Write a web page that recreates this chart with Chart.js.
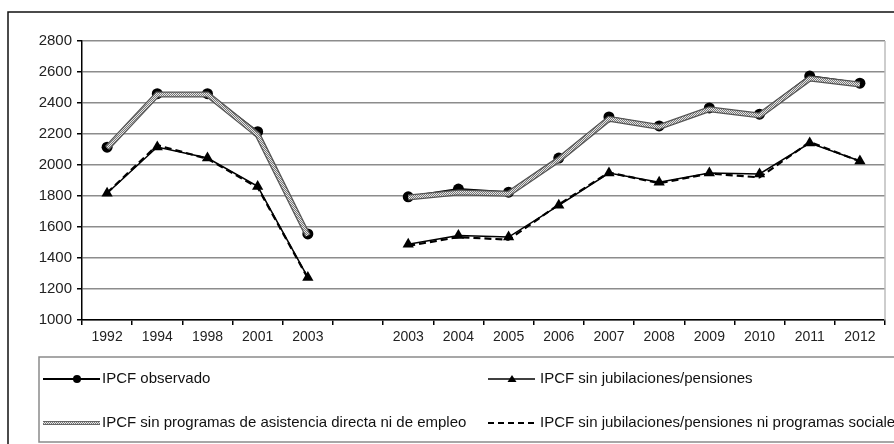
<!DOCTYPE html>
<html>
<head>
<meta charset="utf-8">
<script src="https://cdn.jsdelivr.net/npm/chart.js@4/dist/chart.umd.min.js"></script>
<style>
  html, body { margin: 0; padding: 0; background: #fff; }
  #wrap { width: 894px; height: 444px; position: relative; }
</style>
</head>
<body>
<div id="wrap"><canvas id="ipcfChart" width="894" height="444"></canvas></div>
<script>
// categories (empty slot separates the two survey series)
const years = ['1992', '1994', '1998', '2001', '2003', '', '2003', '2004', '2005', '2006', '2007', '2008', '2009', '2010', '2011', '2012'];

const ipcfObservado = [2115, 2460, 2460, 2215, 1555, null, 1795, 1845, 1825, 2045, 2310, 2252, 2368, 2328, 2574, 2528];
const ipcfSinProgramas = [2110, 2455, 2455, 2195, 1545, null, 1790, 1822, 1815, 2035, 2298, 2245, 2360, 2320, 2558, 2520];
const ipcfSinJub = [1818, 2116, 2045, 1862, 1275, null, 1488, 1545, 1535, 1740, 1948, 1888, 1948, 1942, 2142, 2026];
const ipcfSinJubProg = [1820, 2128, 2040, 1855, 1270, null, 1478, 1535, 1518, 1745, 1952, 1882, 1945, 1920, 2148, 2024];

const yTicks = [1000, 1200, 1400, 1600, 1800, 2000, 2200, 2400, 2600, 2800];

const legendNames = [
  'IPCF observado',
  'IPCF sin jubilaciones/pensiones',
  'IPCF sin programas de asistencia directa ni de empleo',
  'IPCF sin jubilaciones/pensiones ni programas sociales'
];

const FONT = '"Liberation Sans", Arial, sans-serif';

// checkered fill for the "hatched" series
function makeHatch() {
  const c = document.createElement('canvas');
  c.width = 2; c.height = 2;
  const g = c.getContext('2d');
  g.fillStyle = '#e6e6e6'; g.fillRect(0, 0, 2, 2);
  g.fillStyle = '#777'; g.fillRect(0, 0, 1, 1); g.fillRect(1, 1, 1, 1);
  return g.createPattern(c, 'repeat');
}
const hatch = makeHatch();

// frame, plot border and legend box
const decorPlugin = {
  id: 'decor',
  beforeDraw(chart) {
    const ctx = chart.ctx;
    ctx.save();
    ctx.fillStyle = '#fff';
    ctx.fillRect(0, 0, chart.width, chart.height);
    ctx.restore();
  },
  afterDraw(chart) {
    const ctx = chart.ctx;
    const a = chart.chartArea;
    ctx.save();
    // outer frame
    ctx.strokeStyle = '#111';
    ctx.lineWidth = 1.5;
    ctx.beginPath();
    ctx.moveTo(8, 444); ctx.lineTo(8, 12); ctx.lineTo(894, 12);
    ctx.stroke();
    // right border of plot
    ctx.strokeStyle = '#bdbdbd';
    ctx.lineWidth = 1.5;
    ctx.beginPath();
    ctx.moveTo(a.right, a.top); ctx.lineTo(a.right, a.bottom);
    ctx.stroke();
    // legend box
    ctx.strokeStyle = '#8a8a8a';
    ctx.lineWidth = 1.5;
    ctx.strokeRect(39, 357, 900, 85);

    ctx.font = '15px ' + FONT;
    ctx.fillStyle = '#111';
    ctx.textBaseline = 'middle';
    ctx.textAlign = 'left';

    // observado
    let y = 379;
    ctx.strokeStyle = '#000'; ctx.lineWidth = 2;
    ctx.beginPath(); ctx.moveTo(43, y); ctx.lineTo(100, y); ctx.stroke();
    ctx.fillStyle = '#000';
    ctx.beginPath(); ctx.arc(77, y, 4, 0, Math.PI * 2); ctx.fill();
    ctx.fillStyle = '#111';
    ctx.fillText(legendNames[0], 102, y);

    // sin jubilaciones
    ctx.lineWidth = 1.5;
    ctx.beginPath(); ctx.moveTo(488, y); ctx.lineTo(535, y); ctx.stroke();
    ctx.fillStyle = '#000';
    ctx.beginPath(); ctx.moveTo(512, y - 4); ctx.lineTo(516.5, y + 3); ctx.lineTo(507.5, y + 3); ctx.closePath(); ctx.fill();
    ctx.fillStyle = '#111';
    ctx.fillText(legendNames[1], 540, y);

    // sin programas (hatched)
    y = 423;
    ctx.strokeStyle = '#666'; ctx.lineWidth = 4;
    ctx.beginPath(); ctx.moveTo(43, y); ctx.lineTo(100, y); ctx.stroke();
    ctx.strokeStyle = hatch; ctx.lineWidth = 2;
    ctx.beginPath(); ctx.moveTo(43, y); ctx.lineTo(100, y); ctx.stroke();
    ctx.fillText(legendNames[2], 102, y);

    // sin jub ni programas (dashed)
    ctx.strokeStyle = '#000'; ctx.lineWidth = 2;
    ctx.setLineDash([6, 4]);
    ctx.beginPath(); ctx.moveTo(488, y); ctx.lineTo(535, y); ctx.stroke();
    ctx.setLineDash([]);
    ctx.fillText(legendNames[3], 540, y);
    ctx.restore();
  }
};

new Chart(document.getElementById('ipcfChart').getContext('2d'), {
  type: 'line',
  data: {
    labels: years,
    datasets: [
      { label: legendNames[0], data: ipcfObservado, borderColor: '#000', backgroundColor: '#000', borderWidth: 2,
        pointStyle: 'circle', pointRadius: 5.5, pointBorderWidth: 0, tension: 0, order: 4 },
      { label: 'outline', data: ipcfSinProgramas, borderColor: '#555', borderWidth: 6, pointRadius: 0, tension: 0, order: 3 },
      { label: legendNames[2], data: ipcfSinProgramas, borderColor: hatch, borderWidth: 3.5, pointRadius: 0, tension: 0, order: 2 },
      { label: legendNames[3], data: ipcfSinJubProg, borderColor: '#000', borderWidth: 2.2, borderDash: [7, 4], pointRadius: 0, tension: 0, order: 1 },
      { label: legendNames[1], data: ipcfSinJub, borderColor: '#000', backgroundColor: '#000', borderWidth: 1.5,
        pointStyle: 'triangle', pointRadius: 6.5, pointBorderWidth: 0, tension: 0, order: 0 }
    ]
  },
  options: {
    responsive: false,
    animation: false,
    spanGaps: false,
    layout: { padding: { top: 41, left: 8, right: 9, bottom: 87 } },
    plugins: { legend: { display: false }, tooltip: { enabled: false } },
    scales: {
      x: {
        offset: true,
        grid: { display: true, offset: true, drawOnChartArea: false, drawTicks: true, tickLength: 5, tickColor: '#000', lineWidth: 1.5 },
        border: { color: '#000', width: 1.5 },
        ticks: { color: '#222', font: { family: FONT, size: 14 }, padding: 4, maxRotation: 0, autoSkip: false },
        afterFit: s => { s.height = 37; }
      },
      y: {
        min: 1000, max: 2800,
        afterBuildTicks: s => { s.ticks = yTicks.map(v => ({ value: v })); },
        grid: { color: '#8c8c8c', lineWidth: 1.5, drawTicks: true, tickLength: 5, tickColor: '#000' },
        border: { color: '#000', width: 1.5 },
        ticks: { color: '#222', font: { family: FONT, size: 15 }, padding: 5, callback: v => String(v) },
        afterFit: s => { s.width = 74; }
      }
    }
  },
  plugins: [decorPlugin]
});
</script>
</body>
</html>
